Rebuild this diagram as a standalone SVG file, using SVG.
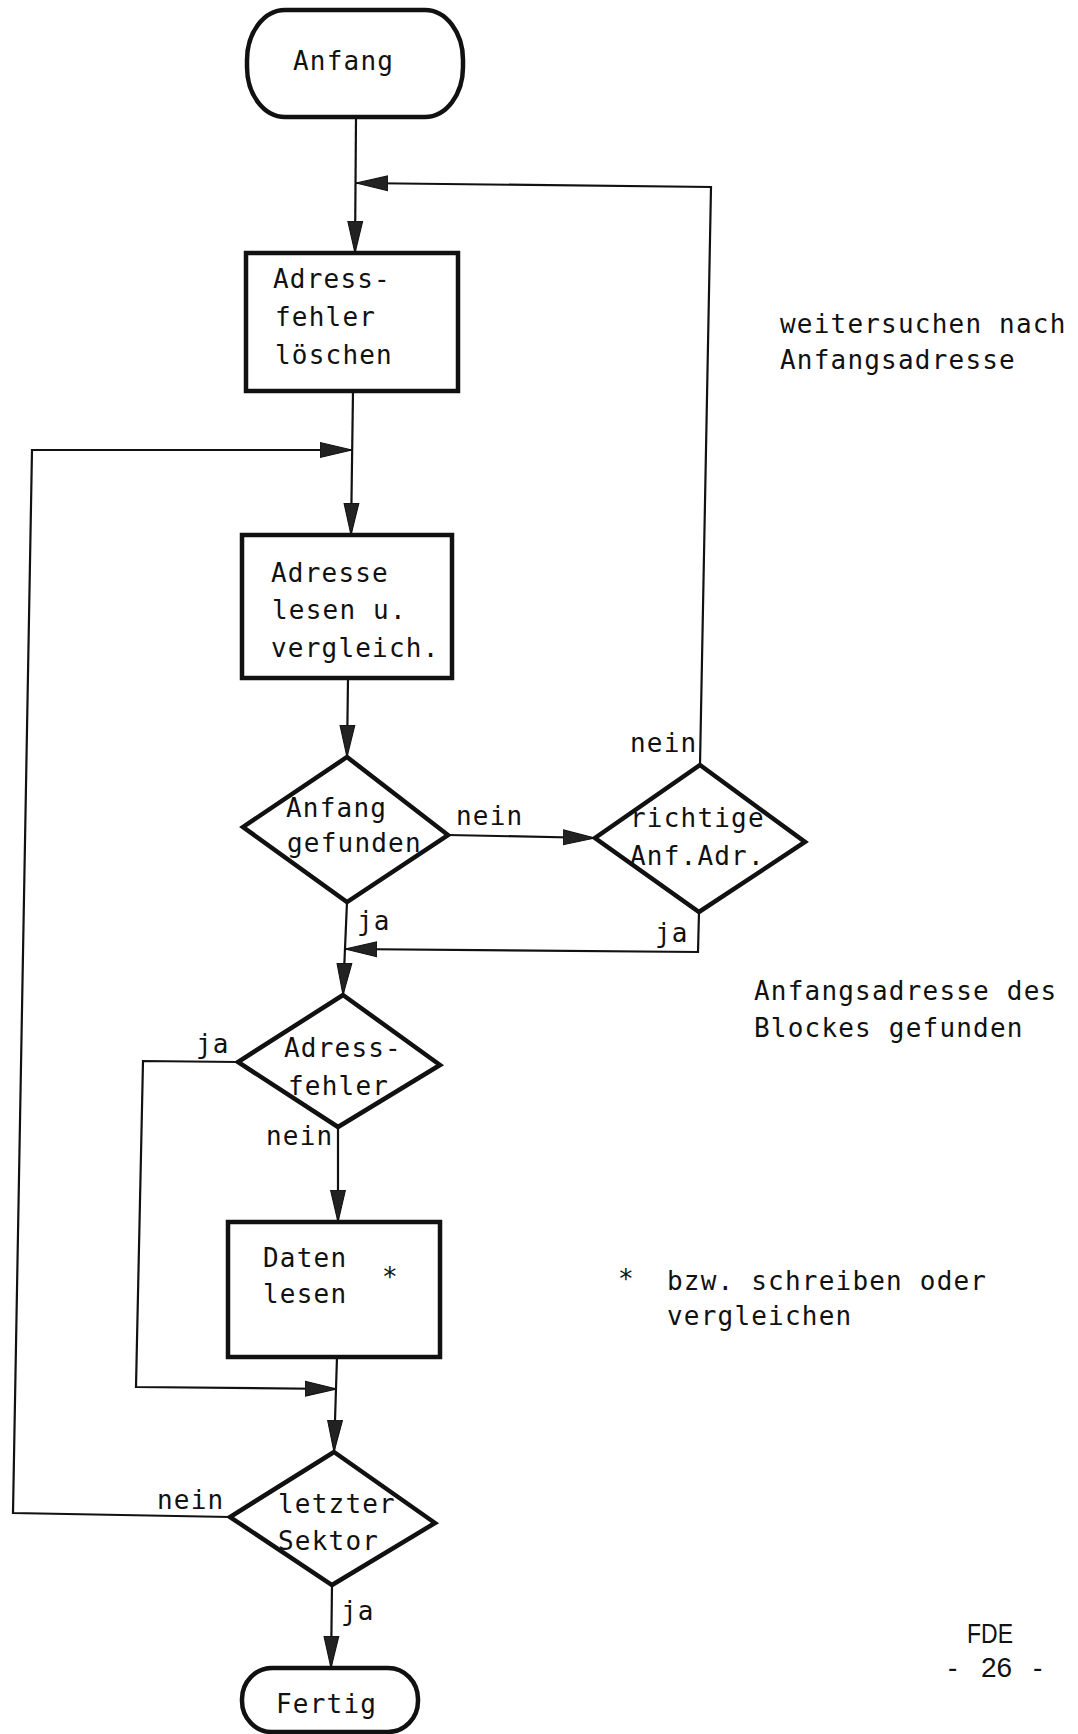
<svg xmlns="http://www.w3.org/2000/svg" width="1078" height="1734" viewBox="0 0 1078 1734">
<style>
.t{font-family:"DejaVu Sans Mono","Liberation Mono",monospace;font-size:26px;letter-spacing:1.2px;fill:#111}
.s{fill:none;stroke:#111;stroke-width:4.5;stroke-linejoin:miter}
.c{fill:none;stroke:#111;stroke-width:2.2}
.f{font-family:"Liberation Sans",Arial,sans-serif;font-size:28px;fill:#111}
</style>
<defs>
<marker id="a" markerUnits="userSpaceOnUse" markerWidth="32" markerHeight="18" viewBox="0 0 30 16" refX="30" refY="8" orient="auto">
<path d="M0,1 L30,8 L0,15 z" fill="#222" stroke="#111" stroke-width="1"/>
</marker>
</defs>
<rect width="1078" height="1734" fill="#fff"/>

<g id="connectors">
<path class="c" d="M356,117 L355,253" marker-end="url(#a)"/>
<path class="c" d="M700,765 L711,187 L356,183" marker-end="url(#a)"/>
<path class="c" d="M353,391 L351,535" marker-end="url(#a)"/>
<path class="c" d="M230,1517 L13,1513 L32,450 L352,450" marker-end="url(#a)"/>
<path class="c" d="M348,678 L347,757" marker-end="url(#a)"/>
<path class="c" d="M448,835 L595,838" marker-end="url(#a)"/>
<path class="c" d="M699,912 L698,952 L345,949" marker-end="url(#a)"/>
<path class="c" d="M347,902 L343,995" marker-end="url(#a)"/>
<path class="c" d="M238,1062 L143,1061 L136,1387 L337,1389" marker-end="url(#a)"/>
<path class="c" d="M338,1127 L338,1222" marker-end="url(#a)"/>
<path class="c" d="M337,1357 L334,1452" marker-end="url(#a)"/>
<path class="c" d="M332,1585 L331,1668" marker-end="url(#a)"/>
<text class="t" x="456" y="825">nein</text>
<text class="t" x="630" y="752">nein</text>
<text class="t" x="357" y="930">ja</text>
<text class="t" x="655" y="942">ja</text>
<text class="t" x="196" y="1053">ja</text>
<text class="t" x="266" y="1145">nein</text>
<text class="t" x="157" y="1509">nein</text>
<text class="t" x="341" y="1620">ja</text>
</g>

<g id="start">
<rect class="s" x="247" y="10" width="216" height="107" rx="38" ry="50"/>
<text class="t" x="293" y="70">Anfang</text>
</g>

<g id="clear-error">
<rect class="s" x="246" y="253" width="212" height="138"/>
<text class="t" x="273" y="288">Adress-</text>
<text class="t" x="275" y="326">fehler</text>
<text class="t" x="275" y="364">löschen</text>
</g>

<g id="read-address">
<rect class="s" x="242" y="535" width="210" height="143"/>
<text class="t" x="271" y="582">Adresse</text>
<text class="t" x="272" y="619">lesen u.</text>
<text class="t" x="271" y="657">vergleich.</text>
</g>

<g id="start-found">
<polygon class="s" points="347,757 448,835 347,902 243,827"/>
<text class="t" x="286" y="817">Anfang</text>
<text class="t" x="287" y="852">gefunden</text>
</g>

<g id="correct-addr">
<polygon class="s" points="700,765 805,842 699,912 595,838"/>
<text class="t" x="630" y="827">richtige</text>
<text class="t" x="630" y="865">Anf.Adr.</text>
</g>

<g id="addr-error">
<polygon class="s" points="343,995 440,1065 338,1127 238,1062"/>
<text class="t" x="284" y="1057">Adress-</text>
<text class="t" x="288" y="1095">fehler</text>
</g>

<g id="read-data">
<rect class="s" x="228" y="1222" width="212" height="135"/>
<text class="t" x="263" y="1267">Daten</text>
<text class="t" x="263" y="1303">lesen</text>
<text class="t" x="382" y="1286">*</text>
</g>

<g id="last-sector">
<polygon class="s" points="334,1452 435,1523 332,1585 230,1517"/>
<text class="t" x="278" y="1513">letzter</text>
<text class="t" x="278" y="1550">Sektor</text>
</g>

<g id="end">
<rect class="s" x="242" y="1668" width="176" height="64" rx="30" ry="31"/>
<text class="t" x="276" y="1713">Fertig</text>
</g>

<g id="notes">
<text class="t" x="780" y="333">weitersuchen nach</text>
<text class="t" x="780" y="369">Anfangsadresse</text>
<text class="t" x="754" y="1000">Anfangsadresse des</text>
<text class="t" x="754" y="1037">Blockes gefunden</text>
<text class="t" x="618" y="1288">*</text>
<text class="t" x="667" y="1290">bzw. schreiben oder</text>
<text class="t" x="667" y="1325">vergleichen</text>
<text class="f" x="967" y="1643" textLength="46" lengthAdjust="spacingAndGlyphs">FDE</text>
<text class="f" y="1677"><tspan x="948">-</tspan> <tspan x="981">26</tspan> <tspan x="1033">-</tspan></text>
</g>
</svg>
